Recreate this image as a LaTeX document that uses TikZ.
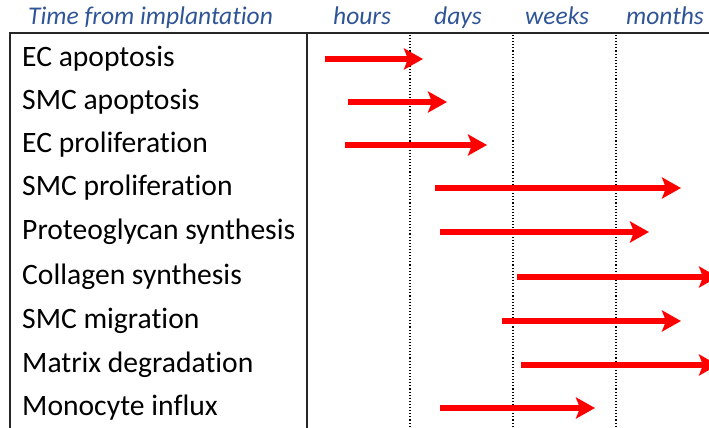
\documentclass[tikz,border=0pt]{standalone}
\usepackage{fontspec}
\setmainfont{Carlito}[Ligatures=NoCommon]
\usetikzlibrary{arrows.meta}
\definecolor{hdrblue}{RGB}{47,85,151}
\begin{document}
\begin{tikzpicture}[x=1pt,y=-1pt,
  hdr/.style={anchor=base west,inner sep=0pt,text=hdrblue,font=\fontsize{25.5}{30}\selectfont\itshape},
  rowlabel/.style={anchor=base west,inner sep=0pt,font=\fontsize{29.6}{34}\selectfont},
  rule/.style={line width=1.5pt,black!85},
  tick/.style={line width=1.1pt,dotted,black},
  span/.style={line width=6pt,red,-{Stealth[length=19pt,width=21pt,inset=4pt]}}]
\useasboundingbox (0,0) rectangle (709,428);
\begin{scope}
\clip (0,0) rectangle (709,428);
% header
\node[hdr] (h0) at (28,25) {Time from implantation};
\node[hdr] (h1) at (333,25) {hours};
\node[hdr] (h2) at (434,25) {days};
\node[hdr] (h3) at (525,25) {weeks};
\node[hdr] (h4) at (626,25) {months};
% frame
\coordinate (tl) at (10,33);
\coordinate (tr) at (712,33);
\coordinate (bl) at (10,430);
\coordinate (st) at (307,33);
\coordinate (sb) at (307,430);
\draw[rule] (tr) -- (tl) -- (bl);
\draw[rule] (st) -- (sb);
% time boundaries
\foreach \x/\n in {410/a,513/b,616/c}{
  \coordinate (d\n t) at (\x,35);
  \coordinate (d\n b) at (\x,430);
  \draw[tick] (d\n t) -- (d\n b);
}
% rows: label, arrow start, arrow end
\foreach \i/\y/\txt/\xs/\xe in {
  1/59/EC apoptosis/325/423,
  2/102/SMC apoptosis/348/447,
  3/145/EC proliferation/345/487,
  4/188/SMC proliferation/435/681,
  5/232/Proteoglycan synthesis/440/649,
  6/277/Collagen synthesis/517/718,
  7/321/SMC migration/502/681,
  8/365/Matrix degradation/521/718,
  9/408/Monocyte influx/440/595}{
  \node[rowlabel] (r\i) at (22,\y+7.5) {\txt};
  \coordinate (s\i) at (\xs,\y);
  \coordinate (e\i) at (\xe,\y);
  \draw[span] (s\i) -- (e\i);
}
\end{scope}
\end{tikzpicture}
\end{document}
